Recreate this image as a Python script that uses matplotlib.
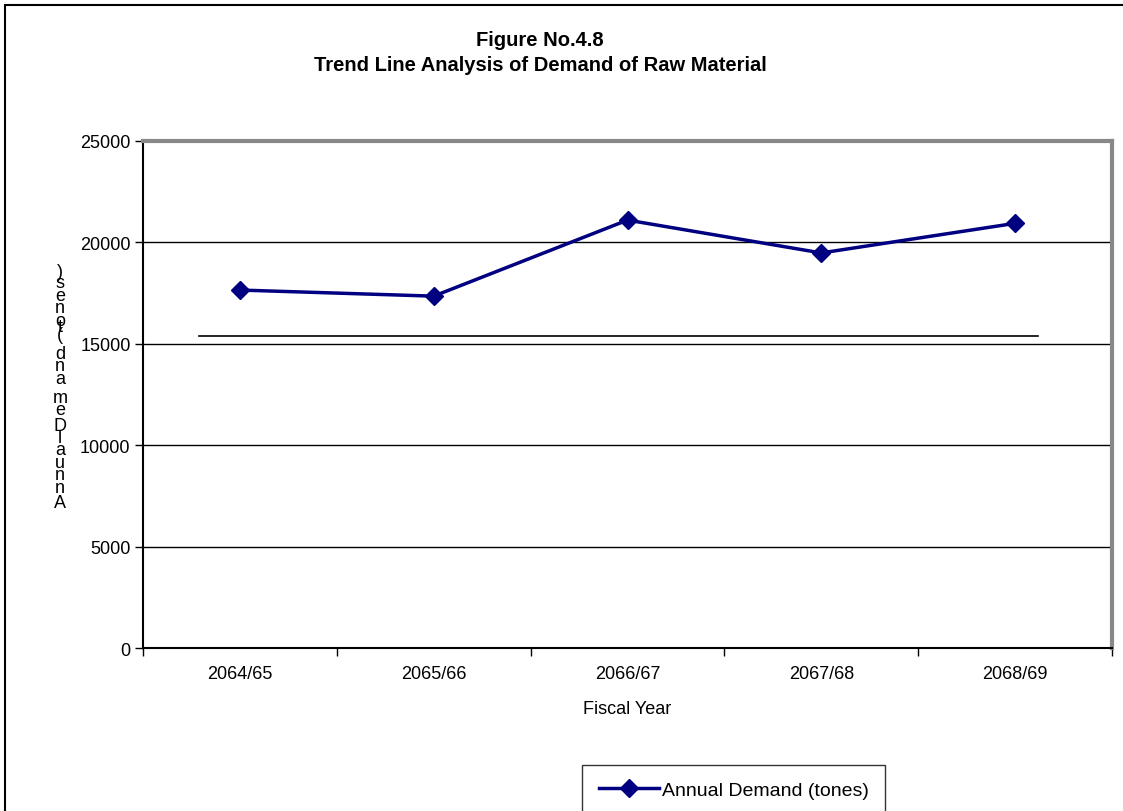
import matplotlib
matplotlib.use("Agg")
import matplotlib.pyplot as plt
from matplotlib.patches import Rectangle
from matplotlib.textpath import TextPath
from matplotlib.font_manager import FontProperties

plt.rcParams["font.family"] = ["Liberation Sans", "DejaVu Sans"]

years = ["2064/65", "2065/66", "2066/67", "2067/68", "2068/69"]
demand = [17650, 17350, 21100, 19480, 20940]
trend_x = [-0.21, 4.12]
trend_y = [15380, 15380]
y_ticks = [0, 5000, 10000, 15000, 20000, 25000]
title = "Figure No.4.8\nTrend Line Analysis of Demand of Raw Material"
ylabel = "Annual Demand (tones)"
xlabel = "Fiscal Year"

W, H = 1123, 812
FS = 13
fig = plt.figure(figsize=(W / 100, H / 100), dpi=100)

# outer chart frame (right/bottom edges fall outside the image)
fig.add_artist(Rectangle((5 / W, -0.1), 1.2, 1.1 - 6 / H, transform=fig.transFigure,
                         fill=False, edgecolor="black", linewidth=1.5))

ax = fig.add_axes([143 / W, 1 - 649 / H, (1112 - 143) / W, (649 - 142) / H])
x = list(range(len(years)))
ax.plot(x, demand, color="#000080", linewidth=2.5, marker="D", markersize=9,
        label="Annual Demand (tones)")
ax.plot(trend_x, trend_y, color="black", linewidth=1.2)

ax.set_xlim(-0.5, len(years) - 0.5)
ax.set_ylim(0, 25000)
ax.set_yticks(y_ticks)
ax.set_yticklabels([str(v) for v in y_ticks], fontsize=FS)
ax.set_xticks(x)
ax.set_xticklabels(years, fontsize=FS)
ax.tick_params(axis="x", length=0, pad=12)
ax.tick_params(axis="y", length=6, width=1, direction="out", pad=3)
# category boundary ticks
ax.set_xticks([i - 0.5 for i in range(len(years) + 1)], minor=True)
ax.tick_params(axis="x", which="minor", length=6, width=1, direction="out")
ax.grid(axis="y", color="black", linewidth=1)
ax.set_axisbelow(True)
for s in ["top", "right"]:
    ax.spines[s].set_color("#888888")
    ax.spines[s].set_linewidth(3)
for s in ["left", "bottom"]:
    ax.spines[s].set_color("black")
    ax.spines[s].set_linewidth(1.5)

ax.set_xlabel(xlabel, fontsize=FS, labelpad=13)

fig.text(540 / W, 1 - 53 / H, title, ha="center", va="center", fontsize=14.5,
         fontweight="bold", linespacing=1.35)

# y label: upright glyphs stacked bottom-to-top by their advance width
fp = FontProperties(family="Liberation Sans", size=FS)


def advance(ch):
    return (TextPath((0, 0), "x" + ch + "x", prop=fp).get_extents().width
            - TextPath((0, 0), "xx", prop=fp).get_extents().width)


advs = [advance(ch) for ch in ylabel]
scale = (508 - 277) / sum(advs[:-1])
ypos = 508.0
for ch, a in zip(ylabel, advs):
    fig.text(60 / W, 1 - ypos / H, ch, ha="center", va="baseline", fontsize=FS)
    ypos -= a * scale

leg = fig.legend(loc="upper left", bbox_to_anchor=(582 / W, 1 - 766 / H),
                 frameon=True, fancybox=False, fontsize=14, borderpad=0.85,
                 handlelength=3.1, handletextpad=0.15, borderaxespad=0)
leg.get_frame().set_edgecolor("black")
leg.get_frame().set_linewidth(1)

fig.savefig("out.png", dpi=100)
